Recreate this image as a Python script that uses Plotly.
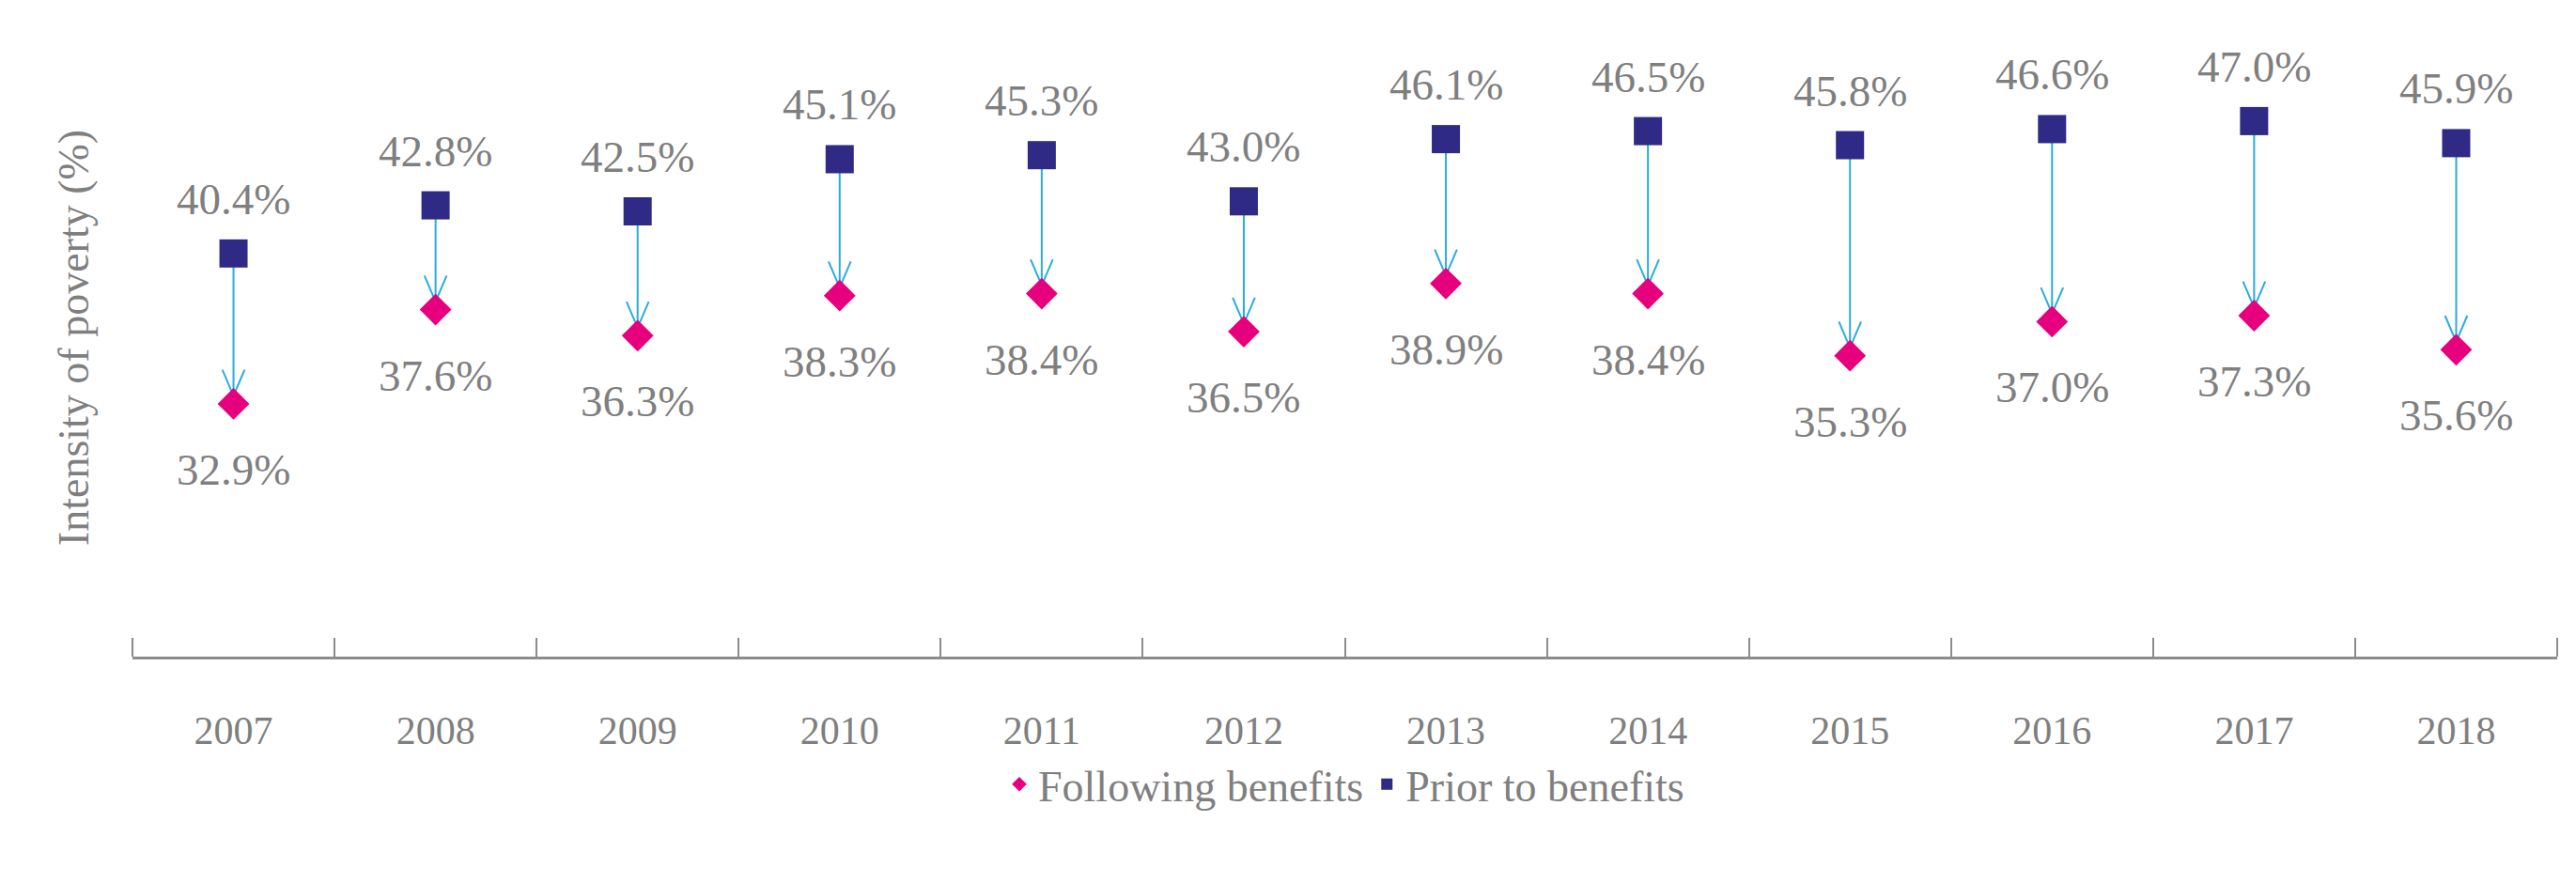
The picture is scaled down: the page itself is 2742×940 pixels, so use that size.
import plotly.graph_objects as go

years = ["2007","2008","2009","2010","2011","2012","2013","2014","2015","2016","2017","2018"]
prior = [40.4,42.8,42.5,45.1,45.3,43.0,46.1,46.5,45.8,46.6,47.0,45.9]
following = [32.9,37.6,36.3,38.3,38.4,36.5,38.9,38.4,35.3,37.0,37.3,35.6]

xs = list(range(len(years)))
FONT = "Liberation Serif"
GREY = "#7f7f7f"
fig = go.Figure()

# arrow shafts and open heads
lx, ly = [], []
for i, (p, f) in enumerate(zip(prior, following)):
    tip = f + 0.4
    lx += [i, i, None, i - 0.055, i, i + 0.055, None]
    ly += [p, tip, None, tip + 1.3, tip, tip + 1.3, None]
fig.add_trace(go.Scatter(x=lx, y=ly, mode="lines", line=dict(color="#29abe2", width=2),
                         showlegend=False, hoverinfo="skip"))

fig.add_trace(go.Scatter(x=xs, y=following, mode="markers", name="Following benefits",
                         marker=dict(symbol="diamond", size=26, color="#e6007e")))
fig.add_trace(go.Scatter(x=xs, y=prior, mode="markers", name="Prior to benefits",
                         marker=dict(symbol="square", size=30, color="#2e2a86")))

for i, (p, f) in enumerate(zip(prior, following)):
    fig.add_annotation(x=i, y=p, text=f"{p:.1f}%", showarrow=False, yshift=58,
                       font=dict(family=FONT, size=47, color=GREY))
    fig.add_annotation(x=i, y=f, text=f"{f:.1f}%", showarrow=False, yshift=-70,
                       font=dict(family=FONT, size=47, color=GREY))

fig.update_layout(
    width=2742, height=940, plot_bgcolor="white", paper_bgcolor="white",
    margin=dict(l=133, r=28, t=12, b=249),
    font=dict(family=FONT, color=GREY),
    legend=dict(orientation="h", x=0.5, xanchor="center", y=-0.2, yanchor="middle",
                font=dict(family=FONT, size=46, color=GREY), itemsizing="constant"),
    xaxis=dict(range=[-0.5, 11.5], tickvals=xs, ticktext=years, ticks="",
               showline=True, linecolor="#8c8c8c", linewidth=3, showgrid=False, zeroline=False,
               tickfont=dict(family=FONT, size=42, color=GREY), ticklabelstandoff=40,
               minor=dict(tick0=-0.5, dtick=1, ticks="inside", ticklen=20, tickcolor="#8c8c8c",
                          tickwidth=2, showgrid=False)),
    yaxis=dict(range=[20.3, 52.1], showgrid=False, zeroline=False, showticklabels=False,
               title=dict(text="Intensity of poverty (%)", font=dict(family=FONT, size=46, color=GREY),
                          standoff=30)),
)
fig.write_html("out.html")
